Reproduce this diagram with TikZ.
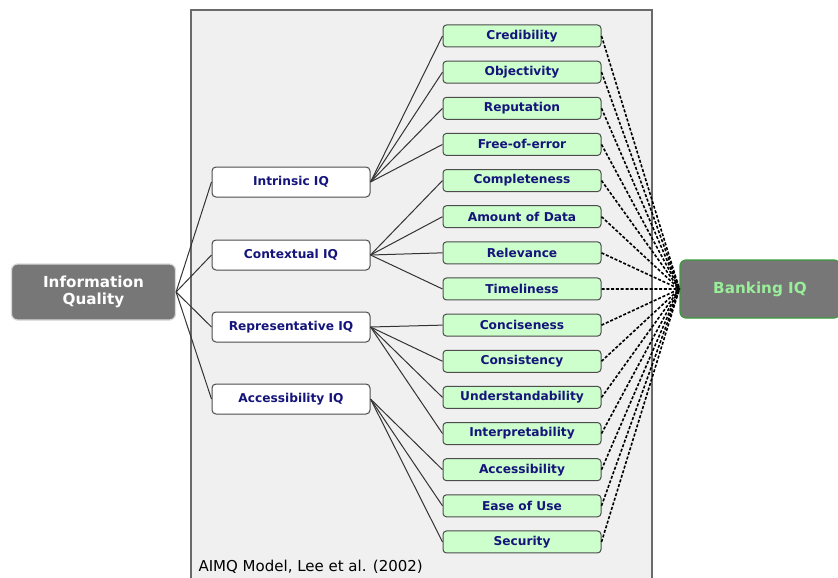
\documentclass[tikz,border=0pt]{standalone}
\usepackage{fontspec}
\setmainfont{DejaVu Sans}
\definecolor{panelfill}{HTML}{F0F0F0}
\definecolor{panelline}{HTML}{6A6A6A}
\definecolor{hubfill}{HTML}{777777}
\definecolor{leaffill}{HTML}{CCFFCC}
\definecolor{navytext}{HTML}{14147A}
\definecolor{bankgreen}{HTML}{3C9A3C}
\definecolor{banktext}{HTML}{99EE99}
\tikzset{
  hub/.style={draw=#1, line width=1.2pt, fill=hubfill, rounded corners=6pt,
    minimum width=164pt, minimum height=56pt, inner sep=0pt,
    font=\fontsize{15.2}{16}\selectfont\bfseries, align=center},
  dimbox/.style={draw=black!70, line width=1pt, fill=white, rounded corners=4pt,
    minimum width=158pt, minimum height=30pt, inner sep=0pt,
    text=navytext, font=\fontsize{12.2}{12.5}\selectfont\bfseries},
  leaf/.style={draw=black!70, line width=1pt, fill=leaffill, rounded corners=3.5pt,
    minimum width=158pt, minimum height=22pt, inner sep=0pt,
    text=navytext, font=\fontsize{12.2}{12.5}\selectfont\bfseries},
  link/.style={draw=black!80, line width=1pt},
  dashlink/.style={draw=black, line width=1.6pt, dash pattern=on 3pt off 1.8pt}
}
\begin{document}
\begin{tikzpicture}[x=1pt,y=-1pt]
\useasboundingbox (0,0) rectangle (838,578);
% grey panel holding the AIMQ dimensions
\filldraw[fill=panelfill, draw=panelline, line width=1.2pt] (191,584) -- (191,10) -- (652,10) -- (652,584);
\node[anchor=west, font=\fontsize{15}{16}\selectfont] (cap) at (195,567) {AIMQ Model, Lee et al. (2002)};

% root and target
\node[hub=black!15, text=white] (iq) at (93.5,292) {Information\\[1pt]Quality};
\node[hub=bankgreen, text=banktext, minimum width=160pt, minimum height=58pt] (bank) at (760,289) {Banking IQ};

% four dimensions
\node[dimbox] (intr) at (291,182) {Intrinsic IQ};
\node[dimbox] (cont) at (291,255) {Contextual IQ};
\node[dimbox] (repr) at (291,327) {Representative IQ};
\node[dimbox] (acc)  at (291,399) {Accessibility IQ};

% fifteen attributes
\foreach \name/\lab [count=\i from 0] in {
  l1/Credibility, l2/Objectivity, l3/Reputation, l4/Free-of-error,
  l5/Completeness, l6/Amount of Data, l7/Relevance, l8/Timeliness,
  l9/Conciseness, l10/Consistency, l11/Understandability, l12/Interpretability,
  l13/Accessibility, l14/Ease of Use, l15/Security}
  \node[leaf] (\name) at (522, 36+36.14*\i) {\lab};

% root to dimensions
\foreach \d in {intr,cont,repr,acc}
  \draw[link] (iq.east) -- (\d.west);

% dimensions to attributes
\foreach \l in {l1,l2,l3,l4} \draw[link] (intr.east) -- (\l.west);
\foreach \l in {l5,l6,l7,l8} \draw[link] (cont.east) -- (\l.west);
\foreach \l in {l9,l10,l11,l12} \draw[link] (repr.east) -- (\l.west);
\foreach \l in {l13,l14,l15} \draw[link] (acc.east) -- (\l.west);

% attributes to Banking IQ
\foreach \i in {1,...,15}
  \draw[dashlink] (l\i.east) -- (bank.west);
\end{tikzpicture}
\end{document}
